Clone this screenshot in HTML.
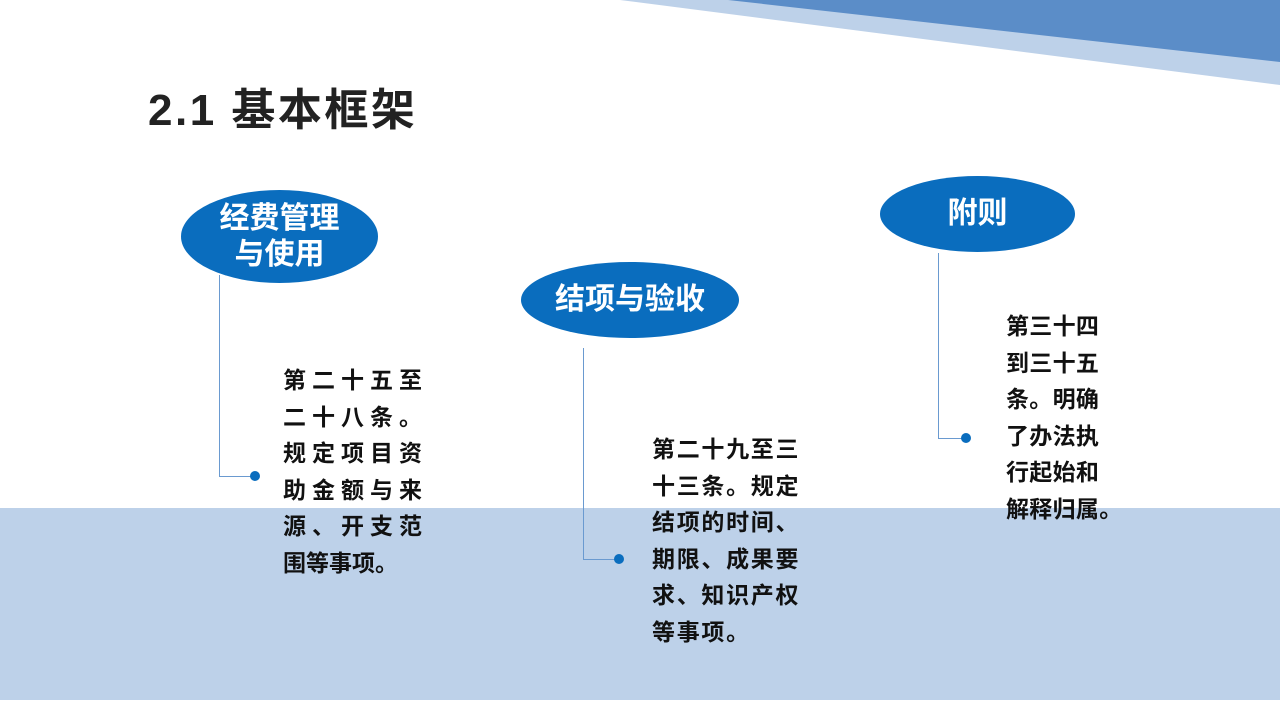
<!DOCTYPE html>
<html><head><meta charset="utf-8"><style>
body{margin:0;width:1280px;height:720px;position:relative;overflow:hidden;background:#fff;font-family:"Liberation Sans","Noto Sans CJK SC",sans-serif}
.a{position:absolute}
.el{position:absolute;background:#0a6dbe;border-radius:50%;color:#fff;font-weight:bold;font-size:30px;display:flex;align-items:center;justify-content:center;text-align:center;line-height:36px}
.t{position:absolute;font-weight:bold;font-size:23px;line-height:36.5px;color:#111;white-space:pre;letter-spacing:1.7px}
.dot{position:absolute;width:10px;height:10px;border-radius:50%;background:#0a6dbe}
.v{position:absolute;width:1px;background:#6a9ad0}
.h{position:absolute;height:1px;background:#6a9ad0}
</style></head><body>
<svg class="a" style="left:0;top:0" width="1280" height="720">
<polygon points="620,0 1280,0 1280,85" fill="#bdd1e9"/>
<polygon points="728,0 1280,0 1280,62" fill="#5b8dc8"/>
</svg>
<div class="a" style="left:0;top:508px;width:1280px;height:192px;background:#bdd1e9"></div>
<div class="a" style="left:148px;top:74px;font-size:44px;font-weight:bold;color:#222;letter-spacing:2.5px">2.1 基本框架</div>

<div class="el" style="left:181px;top:190px;width:197px;height:93px">经费管理<br>与使用</div>
<div class="el" style="left:521px;top:262px;width:218px;height:76px">结项与验收</div>
<div class="el" style="left:880px;top:176px;width:195px;height:76px">附则</div>

<div class="v" style="left:219px;top:275px;height:202px"></div>
<div class="h" style="left:219px;top:476px;width:36px"></div>
<div class="dot" style="left:250px;top:471px"></div>

<div class="v" style="left:583px;top:348px;height:212px"></div>
<div class="h" style="left:583px;top:559px;width:36px"></div>
<div class="dot" style="left:614px;top:554px"></div>

<div class="v" style="left:938px;top:253px;height:185px"></div>
<div class="h" style="left:938px;top:438px;width:28px"></div>
<div class="dot" style="left:961px;top:433px"></div>

<div class="t" style="left:283px;top:362px;letter-spacing:6px">第二十五至
二十八条。
规定项目资
助金额与来
源、开支范
<span style="letter-spacing:0">围等事项。</span></div>
<div class="t" style="left:652px;top:431px">第二十九至三
十三条。规定
结项的时间、
期限、成果要
求、知识产权
等事项。</div>
<div class="t" style="left:1006px;top:308px;letter-spacing:0.3px">第三十四
到三十五
条。明确
了办法执
行起始和
解释归属。</div>
</body></html>
